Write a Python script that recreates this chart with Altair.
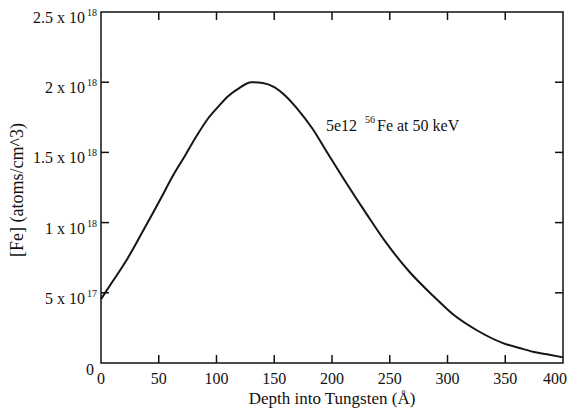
import altair as alt
import pandas as pd

# ---- data ----
depth = [0, 10, 23, 35, 52, 62, 73, 83, 93, 102, 110, 120, 130, 140, 150,
         160, 170, 183, 195, 211, 230, 247, 267, 288, 305, 325, 348, 363, 374, 386, 400]
fe_e17 = [4.55, 5.8, 7.45, 9.2, 11.75, 13.3, 14.8, 16.2, 17.45, 18.3, 19.0, 19.6, 20.0, 19.95, 19.65,
          19.0, 18.1, 16.7, 15.1, 13.0, 10.6, 8.55, 6.5, 4.75, 3.45, 2.35, 1.42, 1.05, 0.8, 0.62, 0.4]
fe = [v * 1e17 for v in fe_e17]

x_ticks = [50, 100, 150, 200, 250, 300, 350]
x_label_values = [0, 50, 100, 150, 200, 250, 300, 350]
x_label_text = ["0", "50", "100", "150", "200", "250", "300", "350"]
x_last_value = [400]
x_last_text = ["400"]
y_ticks = [5e17, 1e18, 1.5e18, 2e18]
y_label_values = [5e17, 1e18, 1.5e18, 2e18, 2.5e18]
y_label_base = ["5 x 10", "1 x 10", "1.5 x 10", "2 x 10", "2.5 x 10"]
y_label_sup = ["17", "18", "18", "18", "18"]

x_title = "Depth into Tungsten (Å)"
y_title = "[Fe] (atoms/cm^3)"

FONT = "Liberation Serif"
INK = "#111"
W, H = 462, 351

xs = alt.Scale(domain=[0, 400], nice=False, zero=False)
ys = alt.Scale(domain=[0, 2.5e18], nice=False)

curve_df = pd.DataFrame({"depth": depth, "fe": fe})
xt_df = pd.DataFrame({"d": x_ticks})
xl_df = pd.DataFrame({"d": x_label_values, "t": x_label_text})
xlast_df = pd.DataFrame({"d": x_last_value, "t": x_last_text})
yt_df = pd.DataFrame({"v": y_ticks})
yl_df = pd.DataFrame({"v": y_label_values, "base": y_label_base, "sup": y_label_sup})
zero_df = pd.DataFrame({"v": [0], "t": ["0"]})

curve = alt.Chart(curve_df).mark_line(color="#151515", strokeWidth=2, interpolate="monotone").encode(
    x=alt.X("depth:Q", scale=xs, axis=None),
    y=alt.Y("fe:Q", scale=ys, axis=None),
)

tick_style = dict(color=INK, strokeWidth=1.5)
bottom_ticks = alt.Chart(xt_df).mark_rule(**tick_style).encode(
    x=alt.X("d:Q", scale=xs, axis=None), y=alt.value(H), y2=alt.value(H - 8))
top_ticks = alt.Chart(xt_df).mark_rule(**tick_style).encode(
    x=alt.X("d:Q", scale=xs, axis=None), y=alt.value(0), y2=alt.value(8))
left_ticks = alt.Chart(yt_df).mark_rule(**tick_style).encode(
    y=alt.Y("v:Q", scale=ys, axis=None), x=alt.value(0), x2=alt.value(8))
right_ticks = alt.Chart(yt_df).mark_rule(**tick_style).encode(
    y=alt.Y("v:Q", scale=ys, axis=None), x=alt.value(W), x2=alt.value(W - 8))

xlab = alt.Chart(xl_df).mark_text(
    align="center", baseline="middle", font=FONT, fontSize=16, color=INK).encode(
    x=alt.X("d:Q", scale=xs, axis=None), y=alt.value(H + 16), text="t:N")
xlab_last = alt.Chart(xlast_df).mark_text(
    align="right", baseline="middle", dx=4, font=FONT, fontSize=16, color=INK).encode(
    x=alt.X("d:Q", scale=xs, axis=None), y=alt.value(H + 16), text="t:N")
ylab_base = alt.Chart(yl_df).mark_text(
    align="right", baseline="middle", dy=6, font=FONT, fontSize=16, color=INK).encode(
    y=alt.Y("v:Q", scale=ys, axis=None), x=alt.value(-16), text="base:N")
ylab_sup = alt.Chart(yl_df).mark_text(
    align="right", baseline="middle", dy=1, font=FONT, fontSize=10, color=INK).encode(
    y=alt.Y("v:Q", scale=ys, axis=None), x=alt.value(-4), text="sup:N")
ylab_zero = alt.Chart(zero_df).mark_text(
    align="right", baseline="middle", dy=7, font=FONT, fontSize=16, color=INK).encode(
    y=alt.Y("v:Q", scale=ys, axis=None), x=alt.value(-7), text="t:N")

xtitle = alt.Chart(pd.DataFrame({"t": [x_title]})).mark_text(
    align="center", baseline="alphabetic", font=FONT, fontSize=17, color=INK).encode(
    x=alt.value(W / 2), y=alt.value(H + 41), text="t:N")
ytitle = alt.Chart(pd.DataFrame({"t": [y_title]})).mark_text(
    align="center", baseline="middle", angle=270, font=FONT, fontSize=18, color=INK).encode(
    x=alt.value(-83), y=alt.value(178), text="t:N")

ann1 = alt.Chart(pd.DataFrame({"t": ["5e12"]})).mark_text(
    align="left", baseline="alphabetic", font=FONT, fontSize=16, color=INK).encode(
    x=alt.value(225), y=alt.value(119), text="t:N")
ann2 = alt.Chart(pd.DataFrame({"t": ["56"]})).mark_text(
    align="left", baseline="alphabetic", font=FONT, fontSize=10, color=INK).encode(
    x=alt.value(264), y=alt.value(111), text="t:N")
ann3 = alt.Chart(pd.DataFrame({"t": ["Fe at 50 keV"]})).mark_text(
    align="left", baseline="alphabetic", font=FONT, fontSize=16, color=INK).encode(
    x=alt.value(276), y=alt.value(119), text="t:N")

chart = alt.layer(
    curve, bottom_ticks, top_ticks, left_ticks, right_ticks,
    xlab, xlab_last, ylab_base, ylab_sup, ylab_zero, xtitle, ytitle, ann1, ann2, ann3
).properties(
    width=W, height=H,
    autosize=alt.AutoSizeParams(type="none"),
    padding={"left": 93, "top": 4, "right": 8, "bottom": 45},
    background="white",
).configure_view(stroke=INK, strokeWidth=1.5)

chart.save("out.html", embed_options={"renderer": "svg", "actions": False})
